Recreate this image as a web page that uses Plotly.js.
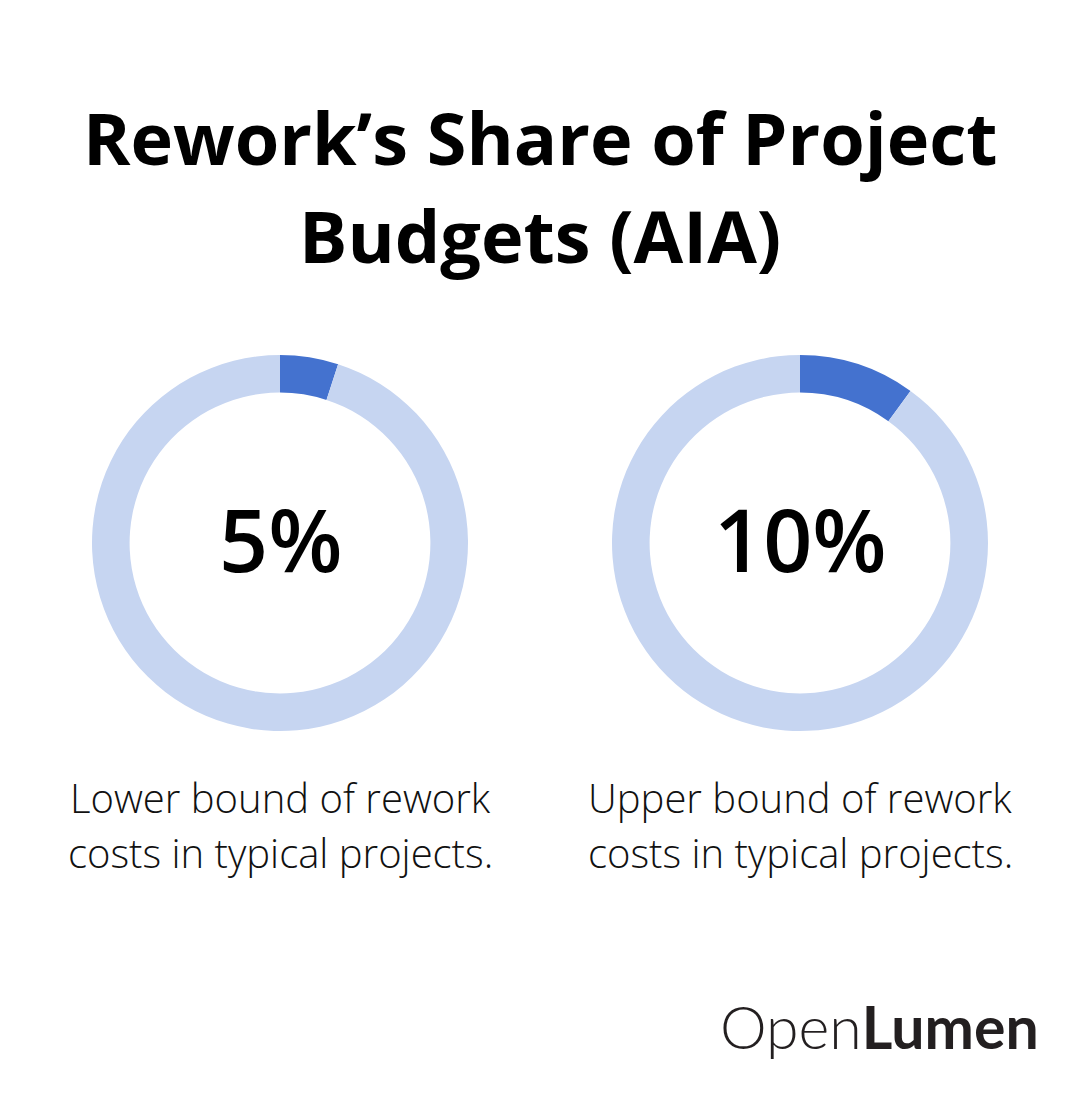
<!DOCTYPE html>
<html>
<head>
<meta charset="utf-8">
<script src="https://cdn.plot.ly/plotly-3.0.1.min.js"></script>
<style>html,body{margin:0;padding:0;background:#fff;}#chart{width:1080px;height:1110px;}</style>
</head>
<body>
<div id="chart"></div>
<script>
const titleLines = ["Rework’s Share of Project", "Budgets (AIA)"];
const sliceLabels = ["Rework", "Other"];
const lowerValues = [5, 95];
const upperValues = [10, 90];
const centerLabels = ["5%", "10%"];
const captions = [
  ["Lower bound of rework", "costs in typical projects."],
  ["Upper bound of rework", "costs in typical projects."]
];
const colors = ["#4472CF", "#C6D5F1"];

const W = 1080, H = 1110;
const py = v => 1 - v / H;
const px = v => v / W;

const centers = [280, 800];
const cy = 543, R = 188;

const pieBase = {
  type: "pie",
  labels: sliceLabels,
  hole: 0.8,
  sort: false,
  direction: "clockwise",
  rotation: 0,
  textinfo: "none",
  hoverinfo: "label+value",
  marker: {colors: colors, line: {width: 0}},
  showlegend: false
};

const data = [lowerValues, upperValues].map((vals, i) => Object.assign({}, pieBase, {
  values: vals,
  domain: {x: [px(centers[i] - R), px(centers[i] + R)], y: [py(cy + R), py(cy - R)]}
}));

const ann = [];
ann.push({text: "<b>" + titleLines[0] + "</b>", x: 0.5, y: py(137), xref: "paper", yref: "paper",
  showarrow: false, xanchor: "center", yanchor: "middle",
  font: {family: "Open Sans", size: 72, color: "#000"}});
ann.push({text: "<b>" + titleLines[1] + "</b>", x: 0.5, y: py(235), xref: "paper", yref: "paper",
  showarrow: false, xanchor: "center", yanchor: "middle",
  font: {family: "Open Sans", size: 72, color: "#000"}});
centers.forEach((c, i) => {
  ann.push({text: centerLabels[i], x: px(c), y: py(539), xref: "paper", yref: "paper",
    showarrow: false, xanchor: "center", yanchor: "middle",
    font: {family: "Open Sans", size: 86, color: "#000", weight: 600}});
  captions[i].forEach((line, j) => {
    ann.push({text: line, x: px(c), y: py(797 + j * 55), xref: "paper", yref: "paper",
      showarrow: false, xanchor: "center", yanchor: "middle",
      font: {family: "Open Sans", size: 40, color: "#111", weight: 300}});
  });
});
ann.push({text: "<span style=\"font-weight:300\">Open</span><b>Lumen</b>", x: px(1041), y: py(1026),
  xref: "paper", yref: "paper", showarrow: false, xanchor: "right", yanchor: "middle",
  font: {family: "Lato", size: 59, color: "#231f20"}});

const layout = {
  width: W, height: H,
  margin: {l: 0, r: 0, t: 0, b: 0},
  paper_bgcolor: "#fff",
  plot_bgcolor: "#fff",
  annotations: ann
};

Plotly.newPlot("chart", data, layout, {displayModeBar: false, staticPlot: true});
</script>
</body>
</html>
